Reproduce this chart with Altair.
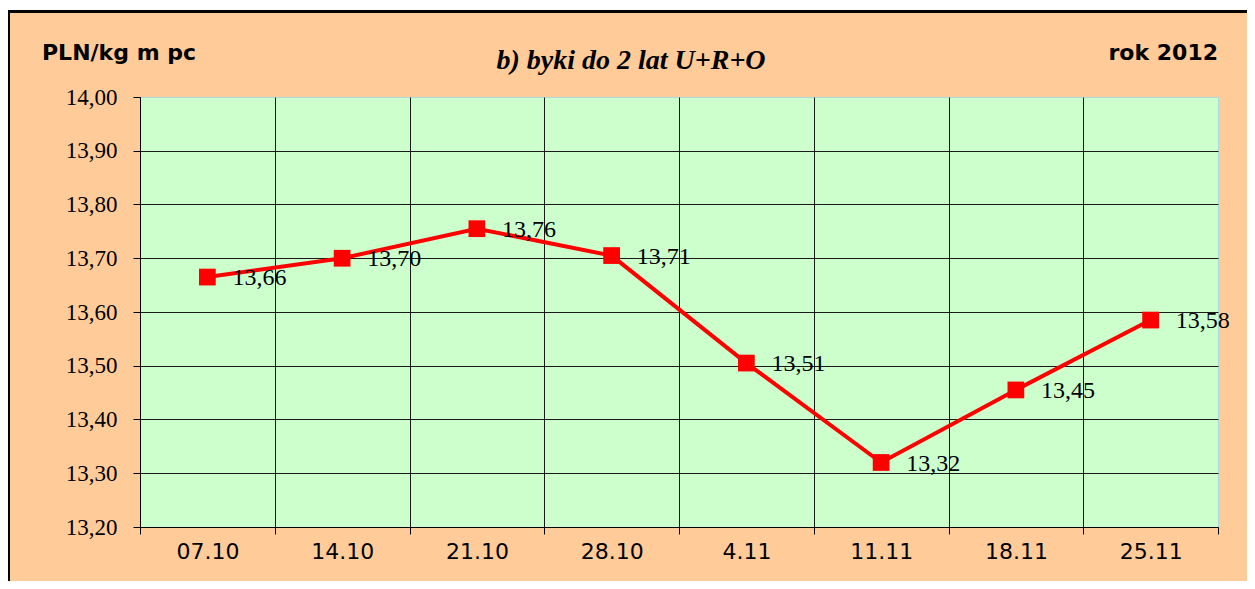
import json
import altair as alt
import pandas as pd

# ---- data ----
dates = ["07.10", "14.10", "21.10", "28.10", "4.11", "11.11", "18.11", "25.11"]
prices = [13.665, 13.70, 13.755, 13.705, 13.505, 13.32, 13.455, 13.585]
price_labels = ["13,66", "13,70", "13,76", "13,71", "13,51", "13,32", "13,45", "13,58"]
y_ticks = [13.2, 13.3, 13.4, 13.5, 13.6, 13.7, 13.8, 13.9, 14.0]

title_text = "b) byki do 2 lat U+R+O"
unit_text = "PLN/kg m pc"
year_text = "rok 2012"

df = pd.DataFrame({
    "idx": [i + 0.5 for i in range(len(dates))],
    "date": dates,
    "price": prices,
    "label": price_labels,
})

W, H = 1078, 430
RED = "#FF0000"
SERIF = "Liberation Serif, Times New Roman, serif"
SANS = "DejaVu Sans"

x_label_expr = "datum.value < 8 ? " + json.dumps(dates) + "[datum.value] : ''"

x_enc = alt.X(
    "idx:Q",
    scale=alt.Scale(domain=[0, 8], nice=False, zero=False),
    axis=alt.Axis(
        values=list(range(9)),
        labelExpr=x_label_expr,
        labelOffset=W / 16,
        labelFlush=False,
        labelOverlap=False,
        labelAlign="center",
        labelBaseline="top",
        labelPadding=7,
        labelFont=SANS,
        labelFontSize=22,
        labelColor="#000000",
        tickSize=7,
        tickColor="#000000",
        domainColor="#000000",
        grid=True,
        gridColor="#1a1a1a",
        gridWidth=1,
        gridOpacity={"condition": {"test": "datum.value >= 8", "value": 0}, "value": 1},
        title=None,
    ),
)

y_enc = alt.Y(
    "price:Q",
    scale=alt.Scale(domain=[13.2, 14.0], nice=False, zero=False),
    axis=alt.Axis(
        values=y_ticks,
        labelExpr="replace(format(datum.value, '.2f'), '.', ',')",
        labelFont=SERIF,
        labelFontSize=23,
        labelFontWeight="normal",
        labelColor="#000000",
        labelPadding=16,
        tickSize=7,
        tickColor="#000000",
        domainColor="#000000",
        grid=True,
        gridColor="#1a1a1a",
        gridWidth=1,
        gridOpacity={"condition": {"test": "datum.value >= 13.999", "value": 0}, "value": 1},
        title=None,
    ),
)

base = alt.Chart(df)

line = base.mark_line(color=RED, strokeWidth=4).encode(x=x_enc, y=y_enc)
points = base.mark_point(shape="square", filled=True, size=280, color=RED, opacity=1).encode(
    x="idx:Q", y="price:Q"
)
labels = base.mark_text(
    align="left", baseline="middle", dx=25, dy=1,
    font=SERIF, fontSize=24, color="#000000",
).encode(x="idx:Q", y="price:Q", text="label:N")

title = alt.Chart(pd.DataFrame({"t": [title_text]})).mark_text(
    font=SERIF, fontSize=28, fontStyle="italic", fontWeight="bold",
    align="center", baseline="middle", color="#000000",
).encode(text="t:N", x=alt.value(491), y=alt.value(-36))

unit = alt.Chart(pd.DataFrame({"t": [unit_text]})).mark_text(
    font=SANS, fontSize=22, fontWeight="bold",
    align="left", baseline="middle", color="#000000",
).encode(text="t:N", x=alt.value(-98), y=alt.value(-44))

year = alt.Chart(pd.DataFrame({"t": [year_text]})).mark_text(
    font=SANS, fontSize=22, fontWeight="bold",
    align="right", baseline="middle", color="#000000",
).encode(text="t:N", x=alt.value(W), y=alt.value(-44))

# frame lines of the outer box
top_white = alt.Chart(pd.DataFrame({"a": [0]})).mark_rule(color="#FFFFFF", strokeWidth=3).encode(
    x=alt.value(-132), x2=alt.value(W + 40), y=alt.value(-88.5)
)
top_black = alt.Chart(pd.DataFrame({"a": [0]})).mark_rule(color="#000000", strokeWidth=3).encode(
    x=alt.value(-132), x2=alt.value(W + 40), y=alt.value(-85.5)
)
left_black = alt.Chart(pd.DataFrame({"a": [0]})).mark_rule(color="#000000", strokeWidth=2).encode(
    x=alt.value(-131), y=alt.value(-87), y2=alt.value(H + 60)
)

chart = (
    alt.layer(line, points, labels, title, unit, year, top_white, top_black, left_black)
    .properties(
        width=W,
        height=H,
        padding={"left": 132, "top": 89, "right": 29, "bottom": 54},
        autosize=alt.AutoSizeParams(type="none"),
        background="#FFCC99",
    )
    .configure_view(fill="#CCFFCC", stroke="#A8DCDC", strokeWidth=1)
    .configure_axisY(labelFont=SERIF, labelFontSize=23)
    .configure_axisX(labelFont=SANS, labelFontSize=22)
)

chart.save("out.html", embed_options={"renderer": "svg", "actions": False})
